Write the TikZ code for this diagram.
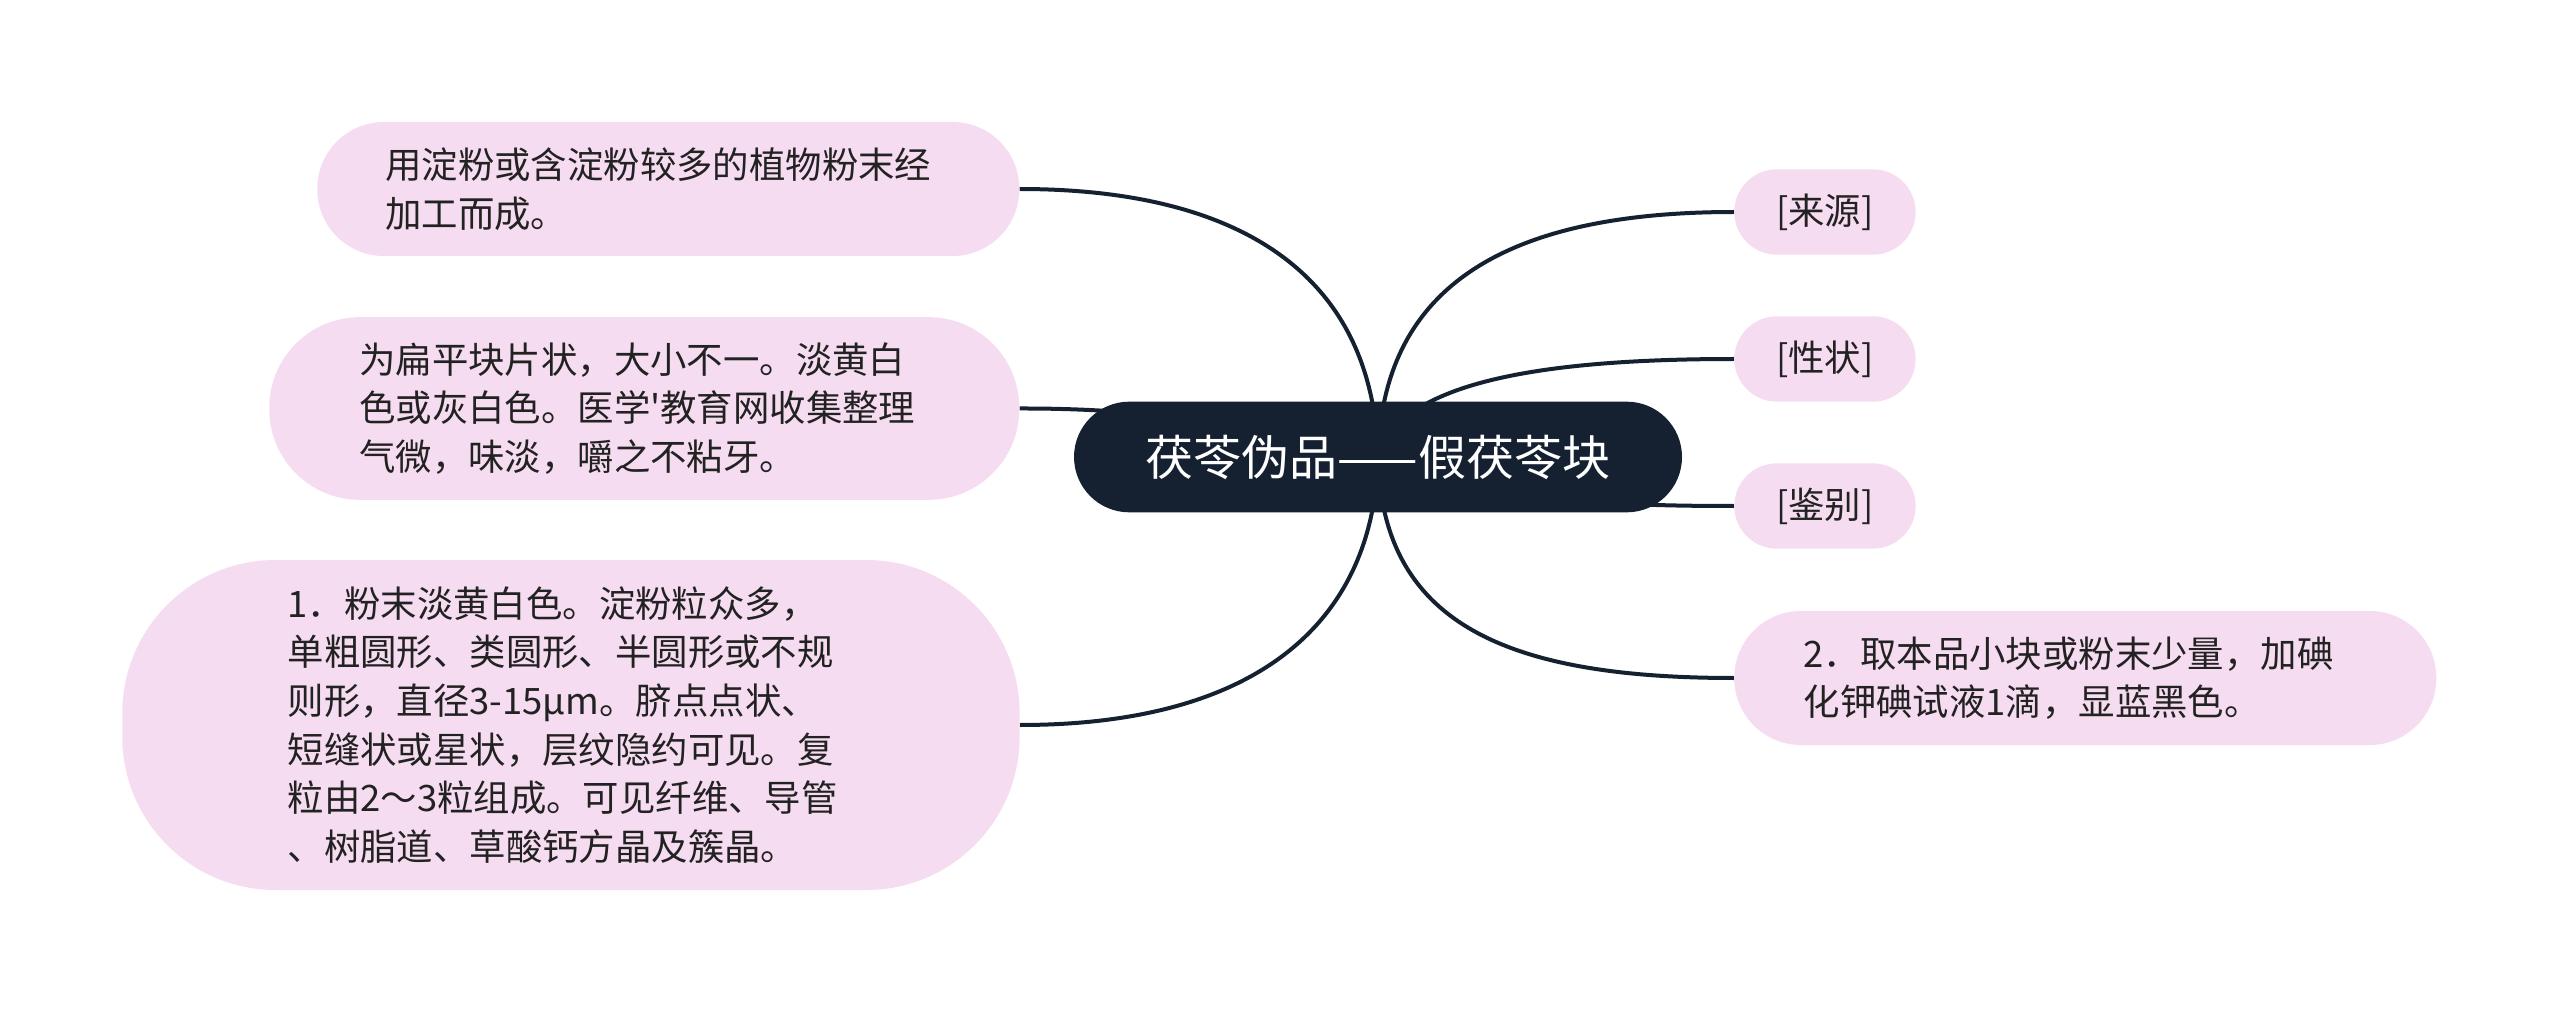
\documentclass[tikz,border=0pt]{standalone}
\usepackage{fontspec}
\newfontfamily\cjk{Noto Sans CJK SC}
\pgfdeclarelayer{bg}\pgfsetlayers{bg,main}
\definecolor{pinkfill}{HTML}{F6DCF0}
\definecolor{navy}{HTML}{152131}
\definecolor{txt}{HTML}{222222}
\begin{document}
\begin{tikzpicture}[x=0.75pt,y=-0.75pt,
 leaf/.style={fill=pinkfill, draw=none, anchor=west, align=left, text=txt, font=\cjk\fontsize{27.3pt}{36.5pt}\selectfont, inner ysep=0pt},
 tag/.style={fill=pinkfill, anchor=west, minimum width=136pt, minimum height=64pt, rounded corners=32pt, text=txt, font=\cjk\fontsize{27.3pt}{36pt}\selectfont, inner sep=0pt},
 root/.style={fill=navy, text=white, minimum width=456pt, minimum height=83pt, rounded corners=41.5pt, font=\cjk\fontsize{36pt}{40pt}\selectfont, inner sep=0pt},
 conn/.style={draw=navy, line width=3pt}]
\useasboundingbox (0,0) rectangle (2560,1012);

\node[root] (R) at (1378,457) {茯苓伪品——假茯苓块};

\node[leaf, text width=424.5pt, inner xsep=51pt, minimum height=100.5pt, rounded corners=50pt] (A) at (317,189)
 {用淀粉或含淀粉较多的植物粉末经\\加工而成。};
\node[leaf, text width=427.5pt, inner xsep=67.5pt, minimum height=137pt, rounded corners=68pt] (B) at (269,408.5)
 {为扁平块片状，大小不一。淡黄白\\色或灰白色。医学'教育网收集整理\\气微，味淡，嚼之不粘牙。};
\node[leaf, text width=425pt, inner xsep=124pt, minimum height=247.5pt, rounded corners=115pt] (C) at (122,725)
 {1．粉末淡黄白色。淀粉粒众多，\\单粗圆形、类圆形、半圆形或不规\\则形，直径3-15μm。脐点点状、\\短缝状或星状，层纹隐约可见。复\\粒由2～3粒组成。可见纤维、导管\\、树脂道、草酸钙方晶及簇晶。};

\node[tag] (S) at (1734,212) {[来源]};
\node[tag] (P) at (1734,359) {[性状]};
\node[tag] (J) at (1734,506) {[鉴别]};
\node[leaf, text width=422.5pt, inner xsep=52pt, minimum height=100.5pt, rounded corners=50pt] (D) at (1734,678)
 {2．取本品小块或粉末少量，加碘\\化钾碘试液1滴，显蓝黑色。};

\begin{pgfonlayer}{bg}
\fill[white] (0,0) rectangle (2560,1012);
\draw[conn] (A.east) .. controls (1260,189) and (1374,290) .. (R.center);
\draw[conn] (B.east) .. controls (1200,408) and (1300,440) .. (R.center);
\draw[conn] (C.east) .. controls (1260,725) and (1374,620) .. (R.center);
\draw[conn] (R.center) .. controls (1382,290) and (1500,212) .. (S.west);
\draw[conn] (R.center) .. controls (1400,380) and (1550,359) .. (P.west);
\draw[conn] (R.center) .. controls (1500,500) and (1600,506) .. (J.west);
\draw[conn] (R.center) .. controls (1382,620) and (1500,678) .. (D.west);
\end{pgfonlayer}
\end{tikzpicture}
\end{document}
